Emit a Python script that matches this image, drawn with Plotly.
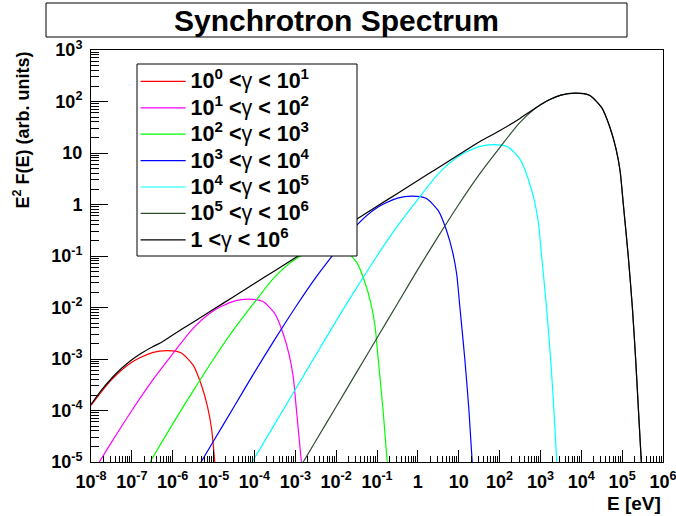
import plotly.graph_objects as go

# ---- data ----
E_g1 = [1.00e-8, 3.16e-8, 1.00e-7, 3.16e-7, 7.24e-7, 1.58e-6, 3.16e-6, 5.01e-6, 7.08e-6, 8.91e-6, 1.07e-5]
Y_g1 = [1.26e-4, 3.94e-4, 8.65e-4, 1.33e-3, 1.46e-3, 1.32e-3, 7.59e-4, 3.16e-4, 1.20e-4, 4.47e-5, 1.00e-5]

E_g2 = [1.00e-8, 3.16e-8, 1.00e-7, 3.16e-7, 1.00e-6, 3.16e-6, 1.00e-5, 3.16e-5, 7.24e-5, 1.58e-4,
        3.16e-4, 5.01e-4, 7.08e-4, 8.91e-4, 1.07e-3, 1.41e-3]
Y_g2 = [5.50e-6, 2.40e-5, 1.00e-4, 3.80e-4, 1.26e-3, 3.94e-3, 8.65e-3, 1.33e-2, 1.46e-2, 1.32e-2,
        7.59e-3, 3.16e-3, 1.20e-3, 4.47e-4, 1.00e-4, 1.00e-5]

E_g3 = [1.00e-7, 3.16e-7, 1.00e-6, 3.16e-6, 1.00e-5, 3.16e-5, 1.00e-4, 3.16e-4, 1.00e-3, 3.16e-3,
        7.24e-3, 1.58e-2, 3.16e-2, 5.01e-2, 7.08e-2, 8.91e-2, 1.07e-1, 1.41e-1, 1.78e-1]
Y_g3 = [2.55e-6, 1.18e-5, 5.50e-5, 2.40e-4, 1.00e-3, 3.80e-3, 1.26e-2, 3.94e-2, 8.65e-2, 1.33e-1,
        1.46e-1, 1.32e-1, 7.59e-2, 3.16e-2, 1.20e-2, 4.47e-3, 1.00e-3, 1.00e-4, 1.00e-5]

E_g4 = [3.16e-6, 1.00e-5, 3.16e-5, 1.00e-4, 3.16e-4, 1.00e-3, 3.16e-3, 1.00e-2, 3.16e-2, 1.00e-1,
        3.16e-1, 7.24e-1, 1.58, 3.16, 5.01, 7.08, 8.91, 10.7, 14.1, 17.8, 21.4]
Y_g4 = [5.50e-6, 2.55e-5, 1.18e-4, 5.50e-4, 2.40e-3, 1.00e-2, 3.80e-2, 1.26e-1, 3.94e-1, 8.65e-1,
        1.33, 1.46, 1.32, 7.59e-1, 3.16e-1, 1.20e-1, 4.47e-2, 1.00e-2, 1.00e-3, 1.00e-4, 1.00e-5]

E_g5 = [3.16e-5, 1.00e-4, 3.16e-4, 1.00e-3, 3.16e-3, 1.00e-2, 3.16e-2, 1.00e-1, 3.16e-1, 1.00,
        3.16, 10.0, 31.6, 72.4, 158, 316, 501, 708, 891, 1070, 1410, 1780, 2140, 2510]
Y_g5 = [2.55e-6, 1.18e-5, 5.50e-5, 2.55e-4, 1.18e-3, 5.50e-3, 2.40e-2, 1.00e-1, 3.80e-1, 1.26,
        3.94, 8.65, 13.3, 14.6, 13.2, 7.59, 3.16, 1.20, 4.47e-1, 1.00e-1, 1.00e-2, 1.00e-3, 1.00e-4, 1.00e-5]

E_g6 = [1.00e-3, 3.16e-3, 1.00e-2, 3.16e-2, 1.00e-1, 3.16e-1, 1.00, 3.16, 10.0, 31.6,
        100, 316, 1000, 3160, 7240, 15800, 31600, 50100, 70800, 89100,
        107000, 141000, 178000, 214000, 251000, 295000]
Y_g6 = [5.50e-6, 2.55e-5, 1.18e-4, 5.50e-4, 2.55e-3, 1.18e-2, 5.50e-2, 0.240, 1.00, 3.80,
        12.6, 39.4, 86.5, 133, 146, 132, 75.9, 31.6, 12.0, 4.47,
        1.00, 1.00e-1, 1.00e-2, 1.00e-3, 1.00e-4, 1.00e-5]

E_all = [1.00e-8, 1.78e-8, 3.16e-8, 5.62e-8, 1.00e-7, 1.78e-7, 3.16e-7, 5.62e-7, 1.00e-6, 3.16e-6,
         1.00e-5, 3.16e-5, 1.00e-4, 3.16e-4, 1.00e-3, 3.16e-3, 1.00e-2, 3.16e-2, 1.00e-1, 3.16e-1,
         1.00, 3.16, 10.0, 31.6, 100, 316, 724, 1585, 3162, 7244,
         15800, 31600, 50100, 70800, 89100, 107000, 141000, 178000, 214000, 251000, 295000]
Y_all = [1.31e-4, 2.45e-4, 4.18e-4, 6.60e-4, 9.65e-4, 1.32e-3, 1.71e-3, 2.17e-3, 2.92e-3, 5.19e-3,
         9.23e-3, 1.64e-2, 2.92e-2, 5.19e-2, 9.23e-2, 1.64e-1, 2.92e-1, 5.19e-1, 9.23e-1, 1.64,
         2.92, 5.19, 9.23, 16.4, 27.0, 47.0, 73.0, 107, 133, 146,
         132, 75.9, 31.6, 12.0, 4.47, 1.00, 1.00e-1, 1.00e-2, 1.00e-3, 1.00e-4, 1.00e-5]

def legend_label(lo, hi):
    return ('<span style="font-size:21.5px"><b>' + lo + ' &lt;</b>γ<b> &lt; ' + hi + '</b></span>')

series_names = [
    legend_label("10<sup>0</sup>", "10<sup>1</sup>"),
    legend_label("10<sup>1</sup>", "10<sup>2</sup>"),
    legend_label("10<sup>2</sup>", "10<sup>3</sup>"),
    legend_label("10<sup>3</sup>", "10<sup>4</sup>"),
    legend_label("10<sup>4</sup>", "10<sup>5</sup>"),
    legend_label("10<sup>5</sup>", "10<sup>6</sup>"),
    legend_label("1", "10<sup>6</sup>"),
]
series_colors = ["#ff0000", "#ff00ff", "#00ff00", "#0000ff", "#00ffff", "#2f4f2f", "#000000"]

x_tickvals = [10.0 ** p for p in range(-8, 7)]
x_ticktext = ["10<sup>-8</sup>", "10<sup>-7</sup>", "10<sup>-6</sup>", "10<sup>-5</sup>", "10<sup>-4</sup>",
              "10<sup>-3</sup>", "10<sup>-2</sup>", "10<sup>-1</sup>", "1", "10", "10<sup>2</sup>",
              "10<sup>3</sup>", "10<sup>4</sup>", "10<sup>5</sup>", "10<sup>6</sup>"]
y_tickvals = [10.0 ** p for p in range(-5, 4)]
y_ticktext = ["10<sup>-5</sup>", "10<sup>-4</sup>", "10<sup>-3</sup>", "10<sup>-2</sup>", "10<sup>-1</sup>",
              "1", "10", "10<sup>2</sup>", "10<sup>3</sup>"]

FONT = "Liberation Sans, Arial, Helvetica, sans-serif"

fig = go.Figure()
xs = [E_g1, E_g2, E_g3, E_g4, E_g5, E_g6, E_all]
ys = [Y_g1, Y_g2, Y_g3, Y_g4, Y_g5, Y_g6, Y_all]
for i in range(7):
    fig.add_trace(go.Scatter(
        x=xs[i], y=ys[i], mode="lines", name=series_names[i],
        line=dict(color=series_colors[i], width=1.2, shape="spline", smoothing=0.7),
        hoverinfo="skip"))

minor_x = [m * 10.0 ** p for p in range(-8, 6) for m in range(2, 10)]
minor_y = [m * 10.0 ** p for p in range(-5, 3) for m in range(2, 10)]

fig.update_xaxes(
    type="log", range=[-8, 6], showgrid=False, zeroline=False, automargin=False,
    showline=True, linecolor="black", linewidth=1, mirror=True,
    tickmode="array", tickvals=x_tickvals, ticktext=x_ticktext,
    ticks="inside", ticklen=12, tickcolor="black", tickwidth=1,
    ticklabelstandoff=3, ticklabeloverflow="allow",
    tickfont=dict(family=FONT, size=18, color="black", weight="bold"),
    minor=dict(tickmode="array", tickvals=minor_x, ticks="inside", ticklen=6,
               tickcolor="black", tickwidth=1, showgrid=False),
)
fig.update_yaxes(
    type="log", range=[-5, 3], showgrid=False, zeroline=False, automargin=False,
    showline=True, linecolor="black", linewidth=1, mirror=True,
    tickmode="array", tickvals=y_tickvals, ticktext=y_ticktext,
    ticks="inside", ticklen=17, tickcolor="black", tickwidth=1,
    ticklabelstandoff=4, ticklabeloverflow="allow",
    tickfont=dict(family=FONT, size=18, color="black", weight="bold"),
    minor=dict(tickmode="array", tickvals=minor_y, ticks="inside", ticklen=8,
               tickcolor="black", tickwidth=1, showgrid=False),
)

fig.update_layout(
    width=676, height=516,
    margin=dict(l=91, r=13, t=50, b=54, autoexpand=False),
    paper_bgcolor="white", plot_bgcolor="white",
    showlegend=True,
    legend=dict(x=0.078, y=0.968, xanchor="left", yanchor="top",
                bgcolor="rgba(0,0,0,0)", borderwidth=0,
                font=dict(family=FONT, size=18, color="black"),
                itemwidth=45, tracegroupgap=0),
    shapes=[
        # legend frame
        dict(type="rect", xref="paper", yref="paper",
             x0=(137 - 91) / 572, x1=(357 - 91) / 572,
             y0=(462 - 256) / 412, y1=(462 - 64) / 412,
             line=dict(color="black", width=1), fillcolor="white", layer="above"),
        # title frame
        dict(type="rect", xref="paper", yref="paper",
             x0=(46 - 91) / 572, x1=(627 - 91) / 572,
             y0=(462 - 37) / 412, y1=(462 - 3) / 412,
             line=dict(color="black", width=1), fillcolor="white"),
    ],
    annotations=[
        dict(text="<b>Synchrotron Spectrum</b>", xref="paper", yref="paper",
             x=(336 - 91) / 572, y=(462 - 20) / 412, xanchor="center", yanchor="middle",
             showarrow=False, font=dict(family=FONT, size=30, color="black")),
        dict(text="<b>E<sup>2</sup> F(E) (arb. units)</b>", xref="paper", yref="paper",
             x=(22 - 91) / 572, y=1.0, xanchor="center", yanchor="top", textangle=-90,
             showarrow=False, font=dict(family=FONT, size=18, color="black")),
        dict(text="<b>E [eV]</b>", xref="paper", yref="paper",
             x=1.0, y=(462 - 503) / 412, xanchor="right", yanchor="middle",
             showarrow=False, font=dict(family=FONT, size=19, color="black")),
    ],
)

fig.write_html("out.html", config={"displayModeBar": False},
               post_script="document.body.style.margin='0';")
